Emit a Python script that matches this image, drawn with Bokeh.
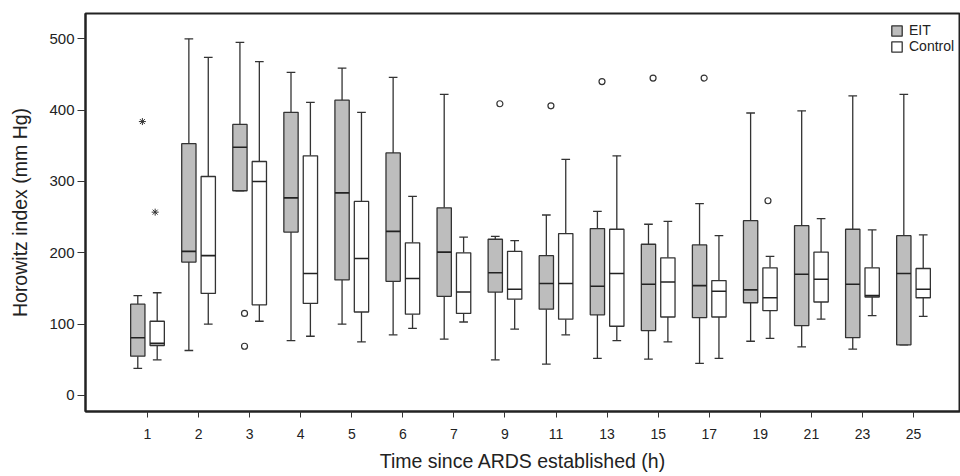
import numpy as np
from bokeh.plotting import figure
from bokeh.models import Range1d, FixedTicker, Legend, LegendItem, ColumnDataSource
from bokeh.embed import file_html
from bokeh.resources import INLINE

categories = ["1", "2", "3", "4", "5", "6", "7", "9", "11", "13", "15", "17", "19", "21", "23", "25"]

eit_lower = [38, 63, 287, 77, 100, 85, 79, 50, 44, 52, 51, 45, 76, 68, 65, 71]
eit_q1 = [55, 187, 287, 229, 162, 160, 139, 145, 121, 113, 91, 109, 130, 98, 81, 71]
eit_median = [81, 202, 348, 277, 284, 230, 201, 172, 157, 153, 156, 154, 148, 170, 156, 171]
eit_q3 = [128, 353, 380, 397, 414, 340, 263, 219, 196, 234, 212, 211, 245, 238, 233, 224]
eit_upper = [140, 500, 495, 453, 459, 446, 422, 223, 253, 258, 240, 269, 396, 399, 420, 422]

ctl_lower = [50, 100, 104, 83, 75, 94, 103, 93, 85, 77, 75, 52, 80, 107, 112, 111]
ctl_q1 = [70, 143, 127, 129, 117, 114, 115, 135, 107, 97, 110, 110, 119, 131, 138, 137]
ctl_median = [73, 196, 300, 171, 192, 164, 145, 149, 157, 171, 159, 146, 137, 163, 140, 149]
ctl_q3 = [104, 307, 328, 336, 272, 214, 200, 202, 227, 233, 193, 161, 179, 201, 179, 178]
ctl_upper = [144, 474, 468, 411, 397, 279, 222, 217, 331, 336, 244, 224, 195, 248, 232, 225]

# outliers (circles) and extremes (stars)
eit_out_cat = ["3", "3", "9", "11", "13", "15", "17"]
eit_out_val = [115, 69, 409, 406, 440, 445, 445]
eit_ext_cat = ["1"]
eit_ext_val = [384]
ctl_out_cat = ["19"]
ctl_out_val = [273]
ctl_ext_cat = ["1"]
ctl_ext_val = [257]

LINE = "#333333"
EIT_FILL = "#bdbdbd"
FONT = "Liberation Sans"

p = figure(width=960, height=476, output_backend="svg", toolbar_location=None,
           x_range=Range1d(-1.214, 15.92), y_range=Range1d(-22.5, 535.5),
           min_border_left=85, min_border_right=0, min_border_top=13, min_border_bottom=65)

idx = {c: i for i, c in enumerate(categories)}
base = np.arange(len(categories), dtype=float)
off = 0.19
bw = 0.28
cap = 0.17


def draw_group(xc, lower, q1, med, q3, upper, fill):
    xc = np.asarray(xc)
    src = ColumnDataSource(dict(x=xc, l=lower, q1=q1, m=med, q3=q3, u=upper,
                                xl=xc - bw / 2, xr=xc + bw / 2,
                                cl=xc - cap / 2, cr=xc + cap / 2))
    p.segment(x0="x", x1="x", y0="q3", y1="u", source=src, line_color=LINE, line_width=1.3)
    p.segment(x0="x", x1="x", y0="q1", y1="l", source=src, line_color=LINE, line_width=1.3)
    p.segment(x0="cl", x1="cr", y0="u", y1="u", source=src, line_color=LINE, line_width=1.3)
    p.segment(x0="cl", x1="cr", y0="l", y1="l", source=src, line_color=LINE, line_width=1.3)
    r = p.vbar(x="x", width=bw, bottom="q1", top="q3", source=src,
               fill_color=fill, line_color=LINE, line_width=1.3)
    p.segment(x0="xl", x1="xr", y0="m", y1="m", source=src, line_color="#222222", line_width=1.6)
    return r


r_eit = draw_group(base - off, eit_lower, eit_q1, eit_median, eit_q3, eit_upper, EIT_FILL)
r_ctl = draw_group(base + off, ctl_lower, ctl_q1, ctl_median, ctl_q3, ctl_upper, "white")

p.scatter([idx[c] - 0.1 for c in eit_out_cat], eit_out_val, marker="circle", size=6,
          fill_color=None, line_color=LINE, line_width=1.2)
p.scatter([idx[c] + 0.15 for c in ctl_out_cat], ctl_out_val, marker="circle", size=6,
          fill_color=None, line_color=LINE, line_width=1.2)
p.scatter([idx[c] - 0.1 for c in eit_ext_cat], eit_ext_val, marker="asterisk", size=7,
          line_color=LINE, line_width=1.0)
p.scatter([idx[c] + 0.15 for c in ctl_ext_cat], ctl_ext_val, marker="asterisk", size=7,
          line_color=LINE, line_width=1.0)

p.xgrid.visible = False
p.ygrid.visible = False
p.outline_line_color = "#222222"
p.outline_line_width = 2

p.xaxis.ticker = FixedTicker(ticks=list(range(len(categories))))
p.xaxis.major_label_overrides = {i: c for i, c in enumerate(categories)}
p.yaxis.ticker = FixedTicker(ticks=[0, 100, 200, 300, 400, 500])

for ax in (p.xaxis[0], p.yaxis[0]):
    ax.minor_tick_line_color = None
    ax.major_tick_in = 0
    ax.major_tick_line_color = "#333333"
    ax.axis_line_color = "#222222"
    ax.axis_line_width = 2
    ax.major_label_text_font = FONT
    ax.major_label_text_color = "#222222"
    ax.axis_label_text_font = FONT
    ax.axis_label_text_font_style = "normal"
    ax.axis_label_text_color = "#222222"
    ax.axis_label_text_font_size = "19.5px"

p.xaxis.major_tick_out = 6
p.xaxis.major_label_standoff = 11
p.xaxis.major_label_text_font_size = "14px"
p.xaxis.axis_label = "Time since ARDS established (h)"
p.xaxis.axis_label_standoff = 8

p.yaxis.major_tick_out = 8
p.yaxis.major_label_standoff = 3
p.yaxis.major_label_text_font_size = "15px"
p.yaxis.axis_label = "Horowitz index (mm Hg)"
p.yaxis.axis_label_standoff = 15

legend = Legend(items=[LegendItem(label="EIT", renderers=[r_eit]),
                       LegendItem(label="Control", renderers=[r_ctl])],
                location=(805, 357), orientation="vertical",
                border_line_color=None, background_fill_alpha=0,
                padding=0, margin=0, spacing=0,
                glyph_width=13, glyph_height=13, label_height=13, label_standoff=6,
                label_text_font=FONT, label_text_font_size="14px", label_text_color="#222222")
p.add_layout(legend)

open("out.html", "w").write(file_html(p, INLINE))
